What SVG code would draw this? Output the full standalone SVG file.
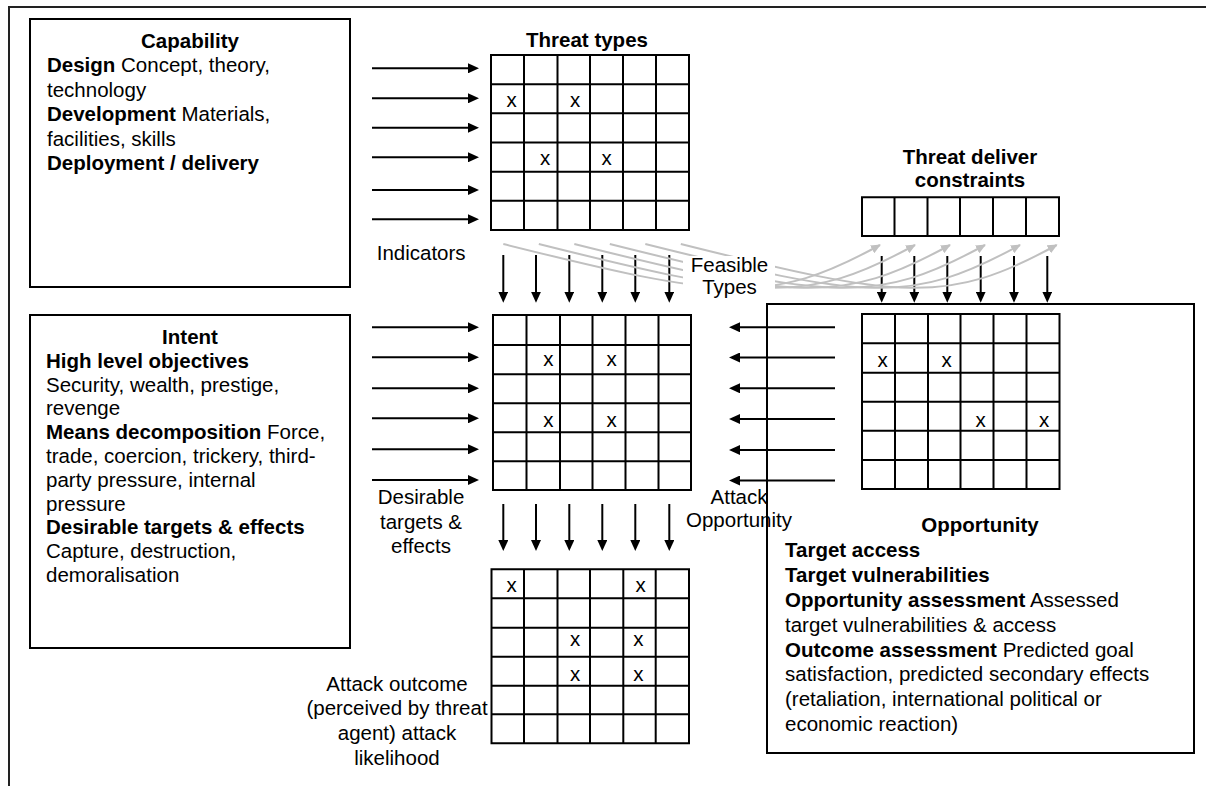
<svg xmlns="http://www.w3.org/2000/svg" width="1206" height="786" viewBox="0 0 1206 786">
<style>
.t{font-family:"Liberation Sans",Arial,sans-serif;font-size:20.5px;fill:#000}
.b{font-weight:bold}
.c{text-anchor:middle}
.box{fill:none;stroke:#000;stroke-width:2}
.grid{fill:none;stroke:#000;stroke-width:2}
.arr{fill:none;stroke:#000;stroke-width:2;marker-end:url(#ah)}
.garr{fill:none;stroke:#c0c0c0;stroke-width:2;marker-end:url(#gah)}
</style>
<defs>
<marker id="ah" viewBox="0 0 11 10" refX="5" refY="5" markerWidth="11" markerHeight="10" markerUnits="userSpaceOnUse" orient="auto"><path d="M0,0 L11,5 L0,10 Z" fill="#000"/></marker>
<marker id="gah" viewBox="0 0 10 9" refX="9" refY="4.5" markerWidth="10" markerHeight="9" markerUnits="userSpaceOnUse" orient="auto"><path d="M0,0 L10,4.5 L0,9 Z" fill="#c0c0c0"/></marker>
</defs>
<rect width="1206" height="786" fill="#fff"/>
<path id="frame" d="M9 786 V7 H1206" fill="none" stroke="#222" stroke-width="2"/>

<g id="capability">
<rect x="30" y="19" width="320" height="268" class="box"/>
<text class="t b c" x="190" y="48">Capability</text>
<text class="t" x="47" y="72"><tspan class="b">Design</tspan> Concept, theory,</text>
<text class="t" x="47" y="96.5">technology</text>
<text class="t" x="47" y="121"><tspan class="b">Development</tspan> Materials,</text>
<text class="t" x="47" y="145.5">facilities, skills</text>
<text class="t b" x="47" y="170">Deployment / delivery</text>
</g>

<g id="intent">
<rect x="30" y="315" width="320" height="333" class="box"/>
<text class="t b c" x="190" y="344">Intent</text>
<text class="t b" x="46" y="367.8">High level objectives</text>
<text class="t" x="46" y="391.6">Security, wealth, prestige,</text>
<text class="t" x="46" y="415.4">revenge</text>
<text class="t" x="46" y="439.2"><tspan class="b">Means decomposition</tspan> Force,</text>
<text class="t" x="46" y="463">trade, coercion, trickery, third-</text>
<text class="t" x="46" y="486.8">party pressure, internal</text>
<text class="t" x="46" y="510.6">pressure</text>
<text class="t b" x="46" y="534.4">Desirable targets &amp; effects</text>
<text class="t" x="46" y="558.2">Capture, destruction,</text>
<text class="t" x="46" y="582">demoralisation</text>
</g>

<g id="opportunity">
<rect x="767" y="304" width="427" height="449" class="box"/>
<text class="t b c" x="980" y="532">Opportunity</text>
<text class="t b" x="785" y="557">Target access</text>
<text class="t b" x="785" y="582">Target vulnerabilities</text>
<text class="t" x="785" y="607"><tspan class="b">Opportunity assessment</tspan> Assessed</text>
<text class="t" x="785" y="631.5">target vulnerabilities &amp; access</text>
<text class="t" x="785" y="656.5"><tspan class="b">Outcome assessment</tspan> Predicted goal</text>
<text class="t" x="785" y="681">satisfaction, predicted secondary effects</text>
<text class="t" x="785" y="705.5">(retaliation, international political or</text>
<text class="t" x="785" y="730.5">economic reaction)</text>
</g>

<g id="threat-types">
<text class="t b c" x="587" y="47">Threat types</text>
<path class="grid" d="M491 55 H689 V230 H491 Z M524 55 V230 M557.5 55 V230 M590 55 V230 M623 55 V230 M656 55 V230 M491 84.2 H689 M491 113.3 H689 M491 142.5 H689 M491 171.7 H689 M491 200.8 H689"/>
<text class="t c" x="511.7" y="107.3">x</text>
<text class="t c" x="575" y="107.3">x</text>
<text class="t c" x="545" y="165">x</text>
<text class="t c" x="606.7" y="165">x</text>
</g>

<g id="attack-matrix">
<path class="grid" d="M493 315 H691 V490 H493 Z M526.5 315 V490 M560 315 V490 M592.5 315 V490 M625.5 315 V490 M658.5 315 V490 M493 345 H691 M493 374.3 H691 M493 403.3 H691 M493 432.3 H691 M493 461.3 H691"/>
<text class="t c" x="548.3" y="366">x</text>
<text class="t c" x="611.7" y="366">x</text>
<text class="t c" x="548.3" y="426.7">x</text>
<text class="t c" x="611.7" y="426.7">x</text>
</g>

<g id="opportunity-matrix">
<path class="grid" d="M862 314 H1059.5 V489 H862 Z M895 314 V489 M928 314 V489 M960.5 314 V489 M993.5 314 V489 M1026.5 314 V489 M862 343.3 H1059.5 M862 372.7 H1059.5 M862 401.7 H1059.5 M862 430.7 H1059.5 M862 460 H1059.5"/>
<text class="t c" x="882.7" y="367">x</text>
<text class="t c" x="946.7" y="367">x</text>
<text class="t c" x="980.7" y="426.7">x</text>
<text class="t c" x="1044" y="426.7">x</text>
</g>

<g id="outcome-matrix">
<path class="grid" d="M491.5 569.3 H689 V743.3 H491.5 Z M524 569.3 V743.3 M557.5 569.3 V743.3 M590 569.3 V743.3 M623.3 569.3 V743.3 M655.7 569.3 V743.3 M491.5 598.3 H689 M491.5 627.7 H689 M491.5 656.7 H689 M491.5 685.7 H689 M491.5 714.3 H689"/>
<text class="t c" x="511.7" y="591.7">x</text>
<text class="t c" x="640.7" y="591.7">x</text>
<text class="t c" x="575" y="646">x</text>
<text class="t c" x="638.3" y="646">x</text>
<text class="t c" x="575" y="681">x</text>
<text class="t c" x="638.3" y="681">x</text>
</g>

<g id="constraints">
<text class="t b c" x="970" y="164">Threat deliver</text>
<text class="t b c" x="970" y="187">constraints</text>
<path class="grid" d="M862 197.3 H1059 V236 H862 Z M894.5 197.3 V236 M927.5 197.3 V236 M960 197.3 V236 M993 197.3 V236 M1026 197.3 V236"/>
</g>

<g id="connectors">
<path class="arr" d="M372 68.3 H473"/>
<path class="arr" d="M372 98.3 H473"/>
<path class="arr" d="M372 127.7 H473"/>
<path class="arr" d="M372 157.3 H473"/>
<path class="arr" d="M372 190 H473"/>
<path class="arr" d="M372 219.3 H473"/>
<path class="arr" d="M372 327.3 H473"/>
<path class="arr" d="M372 357.3 H473"/>
<path class="arr" d="M372 388.3 H473"/>
<path class="arr" d="M372 418.3 H473"/>
<path class="arr" d="M372 449.3 H473"/>
<path class="arr" d="M372 480 H473"/>
<path class="arr" d="M835 327.3 H735"/>
<path class="arr" d="M835 357.5 H735"/>
<path class="arr" d="M835 388.3 H735"/>
<path class="arr" d="M835 419 H735"/>
<path class="arr" d="M835 450 H735"/>
<path class="arr" d="M835 480.5 H735"/>
<path class="arr" d="M503.3 255 V296.7"/>
<path class="arr" d="M536 255 V296.7"/>
<path class="arr" d="M569.3 255 V296.7"/>
<path class="arr" d="M602.3 255 V296.7"/>
<path class="arr" d="M635.3 255 V296.7"/>
<path class="arr" d="M669.3 255 V296.7"/>
<path class="arr" d="M503.3 504 V545"/>
<path class="arr" d="M536 504 V545"/>
<path class="arr" d="M569.3 504 V545"/>
<path class="arr" d="M602.3 504 V545"/>
<path class="arr" d="M635.3 504 V545"/>
<path class="arr" d="M669.3 504 V545"/>
<path class="arr" d="M881.7 256 V296.7"/>
<path class="arr" d="M914.3 256 V296.7"/>
<path class="arr" d="M947.3 256 V296.7"/>
<path class="arr" d="M980.7 256 V296.7"/>
<path class="arr" d="M1014 256 V296.7"/>
<path class="arr" d="M1047.3 256 V296.7"/>
<path class="garr" d="M503.3 244 C723.3 299 770 305.5 880 245"/>
<path class="garr" d="M538.8 244 C758.8 299 805 305.5 915 245"/>
<path class="garr" d="M574.3 244 C794.3 299 840 305.5 950 245"/>
<path class="garr" d="M609.8 244 C829.8 299 875 305.5 985 245"/>
<path class="garr" d="M645.3 244 C865.3 299 910 305.5 1020 245"/>
<path class="garr" d="M680.8 244 C900.8 299 946.7 305.5 1056.7 245"/>
</g>

<g id="labels">
<text class="t" x="376.7" y="260">Indicators</text>
<rect x="683" y="256" width="92" height="45" fill="#fff"/>
<text class="t c" x="729.5" y="272">Feasible</text>
<text class="t c" x="729.5" y="294">Types</text>
<text class="t c" x="421" y="504">Desirable</text>
<text class="t c" x="421" y="529">targets &amp;</text>
<text class="t c" x="421" y="553">effects</text>
<text class="t c" x="739" y="504">Attack</text>
<text class="t c" x="739" y="527">Opportunity</text>
<text class="t c" x="397" y="690.7">Attack outcome</text>
<text class="t c" x="397" y="715">(perceived by threat</text>
<text class="t c" x="397" y="740">agent) attack</text>
<text class="t c" x="397" y="765">likelihood</text>
</g>
</svg>
